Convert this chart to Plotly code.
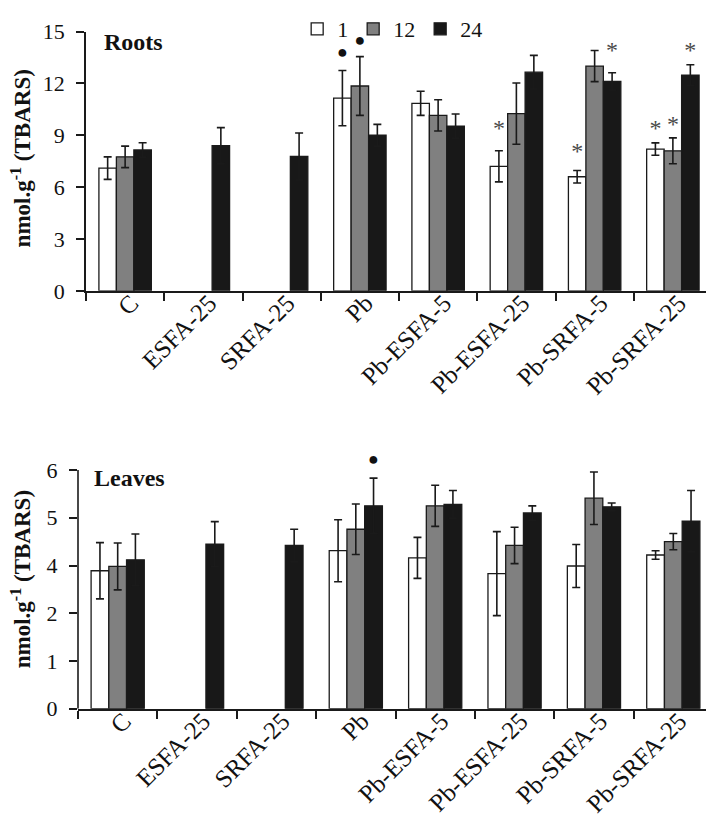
import plotly.graph_objects as go

# TBARS content of roots and leaves, 1 / 12 / 24 h of exposure

categories = ["C", "ESFA-25", "SRFA-25", "Pb", "Pb-ESFA-5", "Pb-ESFA-25", "Pb-SRFA-5", "Pb-SRFA-25"]
series = ["1", "12", "24"]
fills = ["#ffffff", "#808080", "#181818"]

roots_1 = [7.1, None, None, 11.15, 10.85, 7.2, 6.6, 8.2]
roots_1_err = [0.65, None, None, 1.6, 0.7, 0.9, 0.36, 0.36]
roots_12 = [7.75, None, None, 11.85, 10.15, 10.25, 13.0, 8.1]
roots_12_err = [0.62, None, None, 1.7, 0.9, 1.77, 0.9, 0.75]
roots_24 = [8.15, 8.4, 7.77, 9.0, 9.53, 12.65, 12.12, 12.48]
roots_24_err = [0.42, 1.04, 1.36, 0.63, 0.7, 0.97, 0.5, 0.6]

# leaves axis in the picture is labelled 0,1,2,4,5,6 on evenly spaced ticks,
# so values are kept in tick-position units
leaves_1 = [2.89, None, None, 3.31, 3.16, 2.83, 2.99, 3.22]
leaves_1_err = [0.59, None, None, 0.65, 0.43, 0.88, 0.45, 0.09]
leaves_12 = [2.98, None, None, 3.76, 4.25, 3.42, 4.41, 3.5]
leaves_12_err = [0.49, None, None, 0.53, 0.43, 0.38, 0.55, 0.17]
leaves_24 = [3.12, 3.45, 3.42, 4.25, 4.28, 4.1, 4.23, 3.93]
leaves_24_err = [0.54, 0.47, 0.34, 0.58, 0.29, 0.15, 0.08, 0.64]
leaves_tickvals = [0, 1, 2, 3, 4, 5]
leaves_ticktext = ["0", "1", "2", "4", "5", "6"]

# significance marks per series, and the height they sit at
roots_mark_1 = ["", "", "", "●", "", "*", "*", "*"]
roots_mark_1_y = [None, None, None, 13.75, None, 9.32, 7.95, 9.32]
roots_mark_12 = ["", "", "", "●", "", "", "", "*"]
roots_mark_12_y = [None, None, None, 14.43, None, None, None, 9.55]
roots_mark_24 = ["", "", "", "", "", "", "*", "*"]
roots_mark_24_y = [None, None, None, None, None, None, 13.81, 13.81]
leaves_mark_1 = [""] * 8
leaves_mark_1_y = [None] * 8
leaves_mark_12 = [""] * 8
leaves_mark_12_y = [None] * 8
leaves_mark_24 = ["", "", "", "●", "", "", "", ""]
leaves_mark_24_y = [None, None, None, 5.2, None, None, None, None]

W, H = 714, 840
OFF = 8  # page body margin
FONT = "Liberation Serif"
BARGAP = 0.33
LEAVES_TOP = 5.4  # room above the last tick for the dot


def xp(px):
    return (px - OFF) / W


def yp(py):
    return 1 - (py - OFF) / H


leaf_px = (706 - 462.7) / leaves_tickvals[-1]
top_x = [xp(86), xp(712)]
top_y = [yp(280), yp(15.7)]
bot_x = [xp(78), xp(713)]
bot_y = [yp(706), yp(706 - LEAVES_TOP * leaf_px)]

fig = go.Figure()

roots = [(roots_1, roots_1_err), (roots_12, roots_12_err), (roots_24, roots_24_err)]
leaves = [(leaves_1, leaves_1_err), (leaves_12, leaves_12_err), (leaves_24, leaves_24_err)]
roots_marks = [(roots_mark_1, roots_mark_1_y), (roots_mark_12, roots_mark_12_y), (roots_mark_24, roots_mark_24_y)]
leaves_marks = [(leaves_mark_1, leaves_mark_1_y), (leaves_mark_12, leaves_mark_12_y), (leaves_mark_24, leaves_mark_24_y)]

for xa, ya, data, marks, legend in [("x", "y", roots, roots_marks, True), ("x2", "y2", leaves, leaves_marks, False)]:
    for i, (vals, err) in enumerate(data):
        fig.add_trace(go.Bar(x=categories, y=vals, name=series[i], xaxis=xa, yaxis=ya,
                             marker=dict(color=fills[i], line=dict(color="#1a1a1a", width=1.3)),
                             error_y=dict(type="data", array=err, color="#1a1a1a", thickness=1.6, width=4),
                             offsetgroup=series[i], legendgroup=series[i], showlegend=legend))
    for i, (syms, ys) in enumerate(marks):
        sizes = [24 if s == "*" else 18 for s in syms]
        colors = ["#4a4a4a" if s == "*" else "#111111" for s in syms]
        fig.add_trace(go.Scatter(x=categories, y=ys, mode="text", text=syms, xaxis=xa, yaxis=ya,
                                 textposition="middle center", cliponaxis=False,
                                 textfont=dict(family=FONT, size=sizes, color=colors),
                                 offsetgroup=series[i], showlegend=False, hoverinfo="skip"))

# leaves y axis line only up to the last tick
fig.add_shape(type="line", xref="x2 domain", yref="y2", x0=0, x1=0,
              y0=leaves_tickvals[0], y1=leaves_tickvals[-1],
              line=dict(color="#1a1a1a", width=1.6))

fig.add_annotation(x=xp(102), y=yp(26), xref="paper", yref="paper", text="<b>Roots</b>",
                   showarrow=False, xanchor="left", yanchor="middle",
                   font=dict(family=FONT, size=24, color="#111"))
fig.add_annotation(x=xp(92), y=yp(471), xref="paper", yref="paper", text="<b>Leaves</b>",
                   showarrow=False, xanchor="left", yanchor="middle",
                   font=dict(family=FONT, size=24, color="#111"))
for yc in [145, 574]:
    fig.add_annotation(x=xp(21), y=yp(yc), xref="paper", yref="paper",
                       text="<b>nmol.g<sup>-1</sup> (TBARS)</b>", textangle=-90,
                       xanchor="center", yanchor="middle", borderpad=0,
                       showarrow=False, font=dict(family=FONT, size=23, color="#111"))

axis_common = dict(linecolor="#1a1a1a", linewidth=1.6, ticks="outside",
                   ticklen=8, tickwidth=1.6, tickcolor="#1a1a1a", showgrid=False,
                   zeroline=False, automargin=False)
xfont = dict(family=FONT, size=25, color="#111")
yfont = dict(family=FONT, size=22, color="#111")

fig.update_layout(
    width=W, height=H,
    margin=dict(l=0, r=0, t=0, b=0),
    paper_bgcolor="white", plot_bgcolor="white",
    barmode="group", bargap=BARGAP, bargroupgap=0,
    scattermode="group", scattergap=BARGAP,
    font=dict(family=FONT, size=22, color="#111"),
    xaxis=dict(domain=top_x, anchor="y", tickangle=-45, tickson="boundaries", showline=True,
               tickfont=xfont, ticklabelstandoff=-14, ticklabelshift=6, **axis_common),
    yaxis=dict(domain=top_y, anchor="x", range=[0, 15], dtick=3, tickfont=yfont, showline=True,
               ticklabelstandoff=7, **axis_common),
    xaxis2=dict(domain=bot_x, anchor="y2", tickangle=-45, tickson="boundaries", showline=True,
                tickfont=xfont, ticklabelstandoff=-14, ticklabelshift=6, **axis_common),
    yaxis2=dict(domain=bot_y, anchor="x2", range=[0, LEAVES_TOP], tickvals=leaves_tickvals,
                ticktext=leaves_ticktext, tickfont=yfont, showline=False,
                ticklabelstandoff=7, **axis_common),
    legend=dict(orientation="h", x=0.405, y=1.02, xanchor="left", yanchor="top",
                font=dict(family=FONT, size=22, color="#111"), bgcolor="rgba(0,0,0,0)",
                itemclick=False),
    showlegend=True,
)

fig.write_html("out.html")
